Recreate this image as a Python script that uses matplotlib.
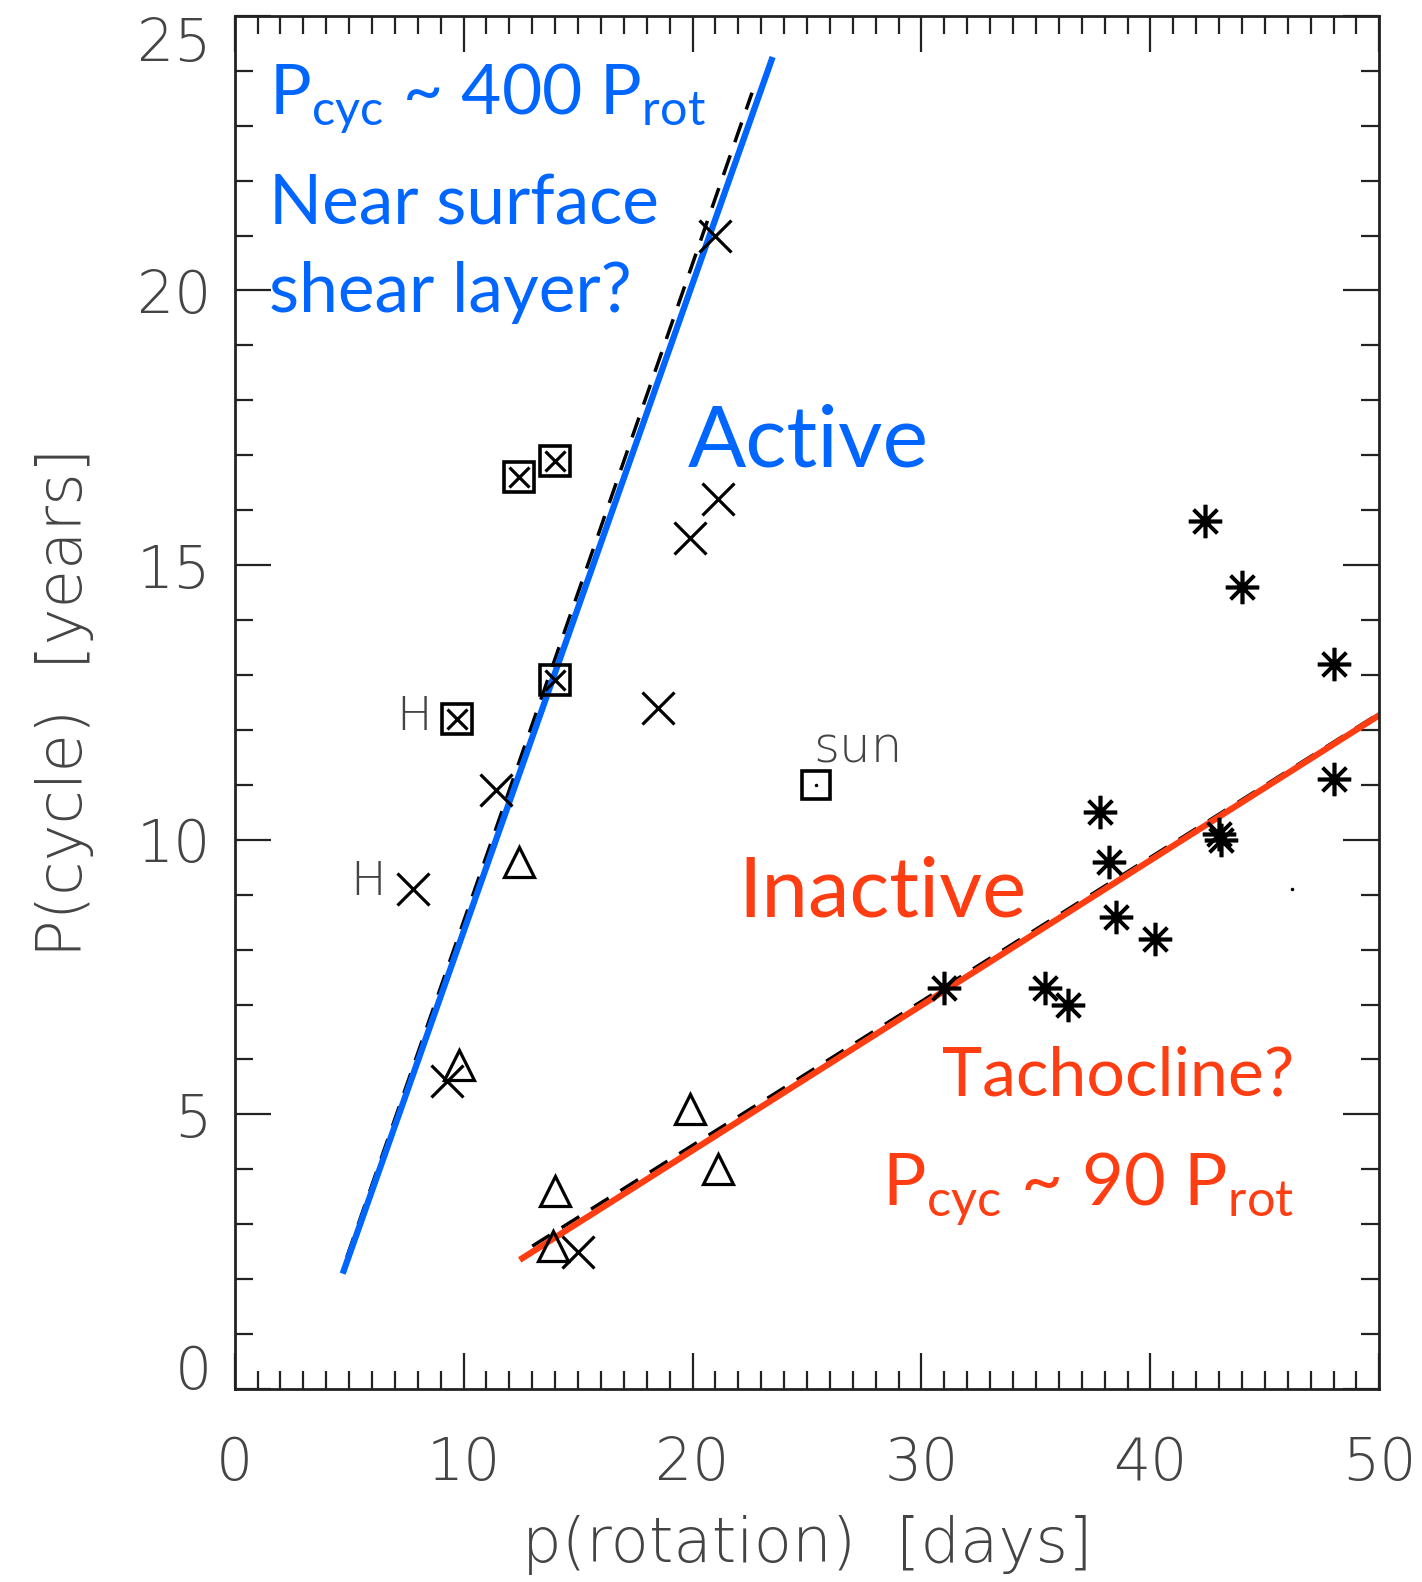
import matplotlib
matplotlib.use('Agg')
import matplotlib.pyplot as plt
from matplotlib.ticker import MultipleLocator, FuncFormatter

plt.rcParams['font.family'] = ['DejaVu Sans']
plt.rcParams['mathtext.fontset'] = 'custom'
plt.rcParams['mathtext.rm'] = 'Lato'

# stars: rotation period [days], cycle period [years]
cross_x = [21.0, 21.1, 19.9, 18.5, 11.4, 7.8, 9.27, 15.0]
cross_y = [21.0, 16.2, 15.5, 12.4, 10.9, 9.1, 5.6, 2.5]

boxed_x = [12.4, 14.0, 14.0, 9.7]
boxed_y = [16.6, 16.9, 12.9, 12.2]

tri_x = [12.4, 9.8, 19.9, 21.1, 14.0, 13.9]
tri_y = [9.6, 5.9, 5.1, 4.0, 3.6, 2.6]

star_x = [42.4, 44.0, 48.0, 48.0, 37.8, 43.0, 43.1, 38.2, 38.5, 40.2, 31.0, 35.4, 36.4]
star_y = [15.8, 14.6, 13.2, 11.1, 10.5, 10.1, 10.0, 9.6, 8.6, 8.2, 7.3, 7.3, 7.0]

sun_x, sun_y = [25.4], [11.0]
dot_x, dot_y = [46.2], [9.1]

# fitted branches
active_dash_x = [4.9, 22.6]
active_dash_y = [2.4, 23.6]
active_x = [4.72, 23.5]
active_y = [2.1, 24.25]

inactive_dash_x = [13.0, 50.0]
inactive_dash_y = [2.6, 12.3]
inactive_x = [12.45, 50.5]
inactive_y = [2.35, 12.4]

# y tick labels at the ends sit inside the frame, drawn by hand
y_min, y_max = 0, 25

blue = '#0066ff'
red = '#ff3d12'
grey = '#444444'

fig = plt.figure(figsize=(14.22, 15.82), dpi=100)
ax = fig.add_axes([0.165, 0.122, 0.805, 0.868])

ax.plot(active_dash_x, active_dash_y, color='black', lw=2.5, ls=(0, (6, 4)))
ax.plot(inactive_dash_x, inactive_dash_y, color='black', lw=2.5, ls=(0, (6, 4)))
ax.plot(active_x, active_y, color=blue, lw=4.5, solid_capstyle='butt')
ax.plot(inactive_x, inactive_y, color=red, lw=4.5, solid_capstyle='butt')

ax.plot(cross_x, cross_y, ls='none', marker='x', ms=23, mew=2.3, color='black')
ax.plot(boxed_x, boxed_y, ls='none', marker='s', ms=21, mew=2.6,
        mfc='none', mec='black')
ax.plot(boxed_x, boxed_y, ls='none', marker='x', ms=15, mew=2.3, color='black')
ax.plot(tri_x, tri_y, ls='none', marker='^', ms=22, mew=2.3,
        mfc='none', mec='black')
ax.plot(star_x, star_y, ls='none', marker=(8, 2, 0), ms=24, mew=2.6, color='black')
ax.plot(sun_x, sun_y, ls='none', marker='s', ms=20, mew=2.6,
        mfc='none', mec='black')
ax.plot(sun_x, sun_y, ls='none', marker='.', ms=3, color='black')
ax.plot(dot_x, dot_y, ls='none', marker='.', ms=3, color='black')

ax.text(25.25, 11.4, 'sun', fontsize=36, color=grey, fontweight='light', va='baseline')
ax.text(8.6, 12.0, 'H', fontsize=34, color=grey, fontweight='light',
        ha='right', va='baseline')
ax.text(6.6, 9.0, 'H', fontsize=34, color=grey, fontweight='light',
        ha='right', va='baseline')

ax.text(1.5, 23.2, r'P$_{\rm cyc}$ ~ 400 P$_{\rm rot}$', fontsize=50,
        color=blue, family='Lato', va='baseline')
ax.text(1.5, 21.2, 'Near surface', fontsize=50, color=blue, family='Lato',
        va='baseline')
ax.text(1.5, 19.6, 'shear layer?', fontsize=50, color=blue, family='Lato',
        va='baseline')
ax.text(19.8, 16.8, 'Active', fontsize=62, color=blue, family='Lato', va='baseline')
ax.text(22.0, 8.6, 'Inactive', fontsize=60, color=red, family='Lato', va='baseline')
ax.text(46.3, 5.35, 'Tachocline?', fontsize=49, color=red, family='Lato',
        ha='right', va='baseline')
ax.text(46.3, 3.33, r'P$_{\rm cyc}$ ~ 90 P$_{\rm rot}$', fontsize=52,
        color=red, family='Lato', ha='right', va='baseline')

ax.set_xlim(0, 50)
ax.set_ylim(y_min, y_max)
ax.xaxis.set_major_locator(MultipleLocator(10))
ax.xaxis.set_minor_locator(MultipleLocator(1))
ax.yaxis.set_major_locator(MultipleLocator(5))
ax.yaxis.set_minor_locator(MultipleLocator(1))
ax.yaxis.set_major_formatter(
    FuncFormatter(lambda v, p: '' if v in (y_min, y_max) else f'{v:g}'))
ax.tick_params(which='both', direction='in', top=True, right=True,
               width=1.6, colors='#222222', labelcolor=grey, labelsize=42)
ax.tick_params(which='major', length=26)
ax.tick_params(which='minor', length=13)
ax.tick_params(axis='x', which='major', pad=33)
ax.tick_params(axis='y', which='major', pad=17)
for lbl in ax.get_xticklabels() + ax.get_yticklabels():
    lbl.set_fontweight('light')

ytrans = ax.get_yaxis_transform()
ax.text(-0.02, y_max, f'{y_max:g}', transform=ytrans, ha='right', va='top',
        fontsize=42, color=grey, fontweight='light')
ax.text(-0.02, y_min, f'{y_min:g}', transform=ytrans, ha='right', va='baseline',
        fontsize=42, color=grey, fontweight='light')

for s in ax.spines.values():
    s.set_linewidth(2)
    s.set_color('#222222')

ax.set_xlabel('p(rotation)  [days]', fontsize=45, color=grey,
              fontweight='light', labelpad=16)
ax.set_ylabel('P(cycle)  [years]', fontsize=45, color=grey,
              fontweight='light', labelpad=30)

fig.savefig('out.png', dpi=100)
